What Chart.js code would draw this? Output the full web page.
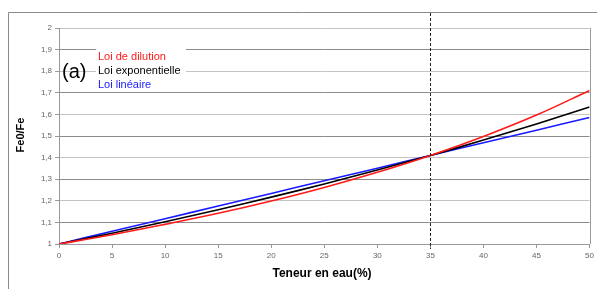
<!DOCTYPE html>
<html><head><meta charset="utf-8">
<script src="https://cdn.jsdelivr.net/npm/chart.js@4"></script>
<style>html,body{margin:0;padding:0;background:#fff}#c{display:block}</style>
</head><body>
<canvas id="c" width="597" height="289"></canvas>
<script>
const teneur = [0, 5, 10, 15, 20, 25, 30, 35, 40, 45, 50];
const loiDilution = [1, 1.043, 1.091, 1.142, 1.199, 1.262, 1.332, 1.410, 1.498, 1.597, 1.711];
const loiExponentielle = [1, 1.050, 1.103, 1.159, 1.217, 1.278, 1.343, 1.410, 1.481, 1.556, 1.634];
const loiLineaire = [1, 1.059, 1.117, 1.176, 1.234, 1.293, 1.351, 1.410, 1.469, 1.527, 1.586];
const seriesNames = ['Loi de dilution', 'Loi exponentielle', 'Loi linéaire'];
const seriesColors = ['#ff1a1a', '#000000', '#1a1aff'];
const yTicks = [1, 1.1, 1.2, 1.3, 1.4, 1.5, 1.6, 1.7, 1.8, 1.9, 2];
const xTicks = [0, 5, 10, 15, 20, 25, 30, 35, 40, 45, 50];
const markerX = 35;

const toPts = arr => arr.map((v, i) => ({x: teneur[i], y: v}));
const fmt = v => (Math.abs(v - Math.round(v)) < 1e-9 ? String(Math.round(v)) : v.toFixed(1).replace('.', ','));

const decor = {
  id: 'decor',
  beforeDraw(chart) {
    const c = chart.ctx;
    c.save();
    c.strokeStyle = '#8a8a8a';
    c.lineWidth = 1;
    c.beginPath();
    c.moveTo(8.5, 289); c.lineTo(8.5, 12.5); c.lineTo(597, 12.5);
    c.stroke();
    c.restore();
  },
  beforeDatasetsDraw(chart) {
    const c = chart.ctx;
    const a = chart.chartArea;
    c.save();
    // right border of plot area
    c.strokeStyle = '#999';
    c.lineWidth = 1;
    c.beginPath();
    c.moveTo(Math.round(a.right) + 0.5, a.top); c.lineTo(Math.round(a.right) + 0.5, a.bottom);
    c.stroke();
    // legend box
    c.fillStyle = '#fff';
    c.fillRect(96, 46, 90, 44);
    c.font = '11px "Liberation Sans", Arial, sans-serif';
    c.textBaseline = 'middle';
    c.textAlign = 'left';
    const ys = [57, 71, 85];
    seriesNames.forEach((n, i) => { c.fillStyle = seriesColors[i]; c.fillText(n, 98, ys[i]); });
    c.fillStyle = '#000';
    c.font = '20px "Liberation Sans", Arial, sans-serif';
    c.fillText('(a)', 62, 72);
    // axis titles
    c.font = 'bold 12px "Liberation Sans", Arial, sans-serif';
    c.textAlign = 'center';
    c.fillText('Teneur en eau(%)', 322, 274);
    c.save();
    c.translate(21, 135);
    c.rotate(-Math.PI / 2);
    c.font = 'bold 11px "Liberation Sans", Arial, sans-serif';
    c.fillText('Fe0/Fe', 0, 0);
    c.restore();
    c.restore();
  },
  afterDatasetsDraw(chart) {
    const c = chart.ctx;
    const x = Math.round(chart.scales.x.getPixelForValue(markerX)) + 0.5;
    c.save();
    c.strokeStyle = '#222';
    c.lineWidth = 1;
    c.setLineDash([3, 2]);
    c.beginPath();
    c.moveTo(x, 13); c.lineTo(x, 249);
    c.stroke();
    c.restore();
  }
};

new Chart(document.getElementById('c'), {
  type: 'line',
  data: {
    datasets: [
      {label: seriesNames[0], data: toPts(loiDilution), borderColor: seriesColors[0]},
      {label: seriesNames[1], data: toPts(loiExponentielle), borderColor: seriesColors[1]},
      {label: seriesNames[2], data: toPts(loiLineaire), borderColor: seriesColors[2]}
    ].map(d => Object.assign(d, {borderWidth: 1.6, pointRadius: 0, tension: 0.4, fill: false}))
  },
  options: {
    responsive: false,
    animation: false,
    layout: {padding: {left: 0, top: 28, right: 6, bottom: 0}},
    plugins: {legend: {display: false}, tooltip: {enabled: false}},
    scales: {
      x: {
        type: 'linear', min: 0, max: 50,
        afterBuildTicks: s => { s.ticks = xTicks.map(v => ({value: v})); },
        afterFit: s => { s.height = 45; },
        grid: {color: 'transparent', tickColor: '#999', tickLength: 4, drawOnChartArea: false},
        border: {color: '#999'},
        ticks: {color: '#666', font: {size: 8, family: '"Liberation Sans", Arial, sans-serif'}, padding: 3, maxRotation: 0}
      },
      y: {
        min: 1, max: 2,
        afterBuildTicks: s => { s.ticks = yTicks.map(v => ({value: v})); },
        afterFit: s => { s.width = 59; },
        grid: {
          color: ctx => { const v = Math.round(ctx.tick.value * 10); return (v % 2 === 1) ? '#8c8c8c' : '#c4c4c4'; },
          tickColor: '#999', tickLength: 4
        },
        border: {color: '#999'},
        ticks: {color: '#666', font: {size: 8, family: '"Liberation Sans", Arial, sans-serif'}, padding: 3, callback: v => fmt(v)}
      }
    }
  },
  plugins: [decor]
});
</script>
</body></html>
